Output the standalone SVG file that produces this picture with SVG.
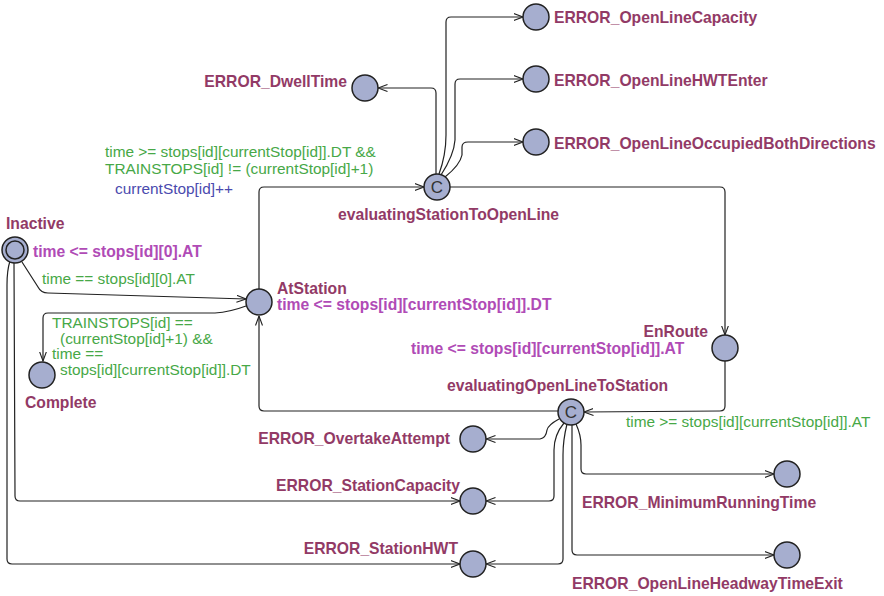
<svg xmlns="http://www.w3.org/2000/svg" width="884" height="596" viewBox="0 0 884 596">
<defs>
<marker id="arr" viewBox="0 0 10 8" refX="9.5" refY="4" markerWidth="10" markerHeight="8" markerUnits="userSpaceOnUse" orient="auto">
<path d="M0,0.5 L9.5,4 L0,7.5" fill="none" stroke="#222" stroke-width="1.1"/>
</marker>
<style>
.loc{fill:#A6AECF;stroke:#222;stroke-width:1.5}
.name{font-family:"Liberation Sans",Arial,sans-serif;font-weight:bold;font-size:15.7px;fill:#923A66}
.inv{font-family:"Liberation Sans",Arial,sans-serif;font-weight:bold;font-size:15.7px;fill:#B04BB6}
.grd{font-family:"Liberation Sans",Arial,sans-serif;font-size:15.4px;fill:#47A847}
.upd{font-family:"Liberation Sans",Arial,sans-serif;font-size:15.4px;fill:#4A4AAE}
.cc{font-family:"Liberation Sans",Arial,sans-serif;font-size:17px;fill:#333;text-anchor:middle}
.e{fill:none;stroke:#222;stroke-width:1.2;marker-end:url(#arr)}
</style>
</defs>
<rect width="884" height="596" fill="#fff"/>

<g id="connectors">
<path class="e" d="M22,262 L38,287 Q41,293 48,293 L246,299"/>
<path class="e" d="M246,306 Q230,312 215,313 L48,313 Q43,313 43,318 L43,361"/>
<path class="e" d="M14,263 L15,496 Q15,501 20,501 L460,501"/>
<path class="e" d="M10,261 Q7,270 7,285 L7,559 Q7,564 12,564 L460,564"/>
<path class="e" d="M259,289 L259,192 Q259,187 264,187 L424,187"/>
<path class="e" d="M450,187 L720,187 Q725,187 725,192 L725,335"/>
<path class="e" d="M725,361 L725,406 Q725,411 720,411 L584,412"/>
<path class="e" d="M558,411 L264,411 Q259,411 259,406 L259,316"/>
<path class="e" d="M436,174 L436,93 Q436,88 431,88 L378,88"/>
<path class="e" d="M439,174 Q446,155 446,135 L446,22 Q446,17 451,17 L523,17"/>
<path class="e" d="M441,175 Q454,155 455,140 L455,84 Q455,79 460,79 L523,79"/>
<path class="e" d="M445,177 Q460,165 462,155 L462,147 Q462,142 468,142 L523,142"/>
<path class="e" d="M559,419 Q548,425 547,430 Q546,438 540,439 L486,439"/>
<path class="e" d="M564,423 Q554,435 554,450 L554,496 Q554,501 549,501 L486,501"/>
<path class="e" d="M567,424 Q563,440 563,455 L563,559 Q563,564 558,564 L486,564"/>
<path class="e" d="M572,425 L572,550 Q572,555 577,555 L774,555"/>
<path class="e" d="M576,424 Q581,435 581,445 L581,469 Q581,474 586,474 L774,474"/>
</g>

<g id="labels">
<text class="grd" x="42" y="284">time == stops[id][0].AT</text>
<text class="grd" x="52" y="328">TRAINSTOPS[id] ==</text>
<text class="grd" x="60" y="344">(currentStop[id]+1) &amp;&amp;</text>
<text class="grd" x="52" y="359">time ==</text>
<text class="grd" x="60" y="375">stops[id][currentStop[id]].DT</text>
<text class="grd" x="105" y="157">time &gt;= stops[id][currentStop[id]].DT &amp;&amp;</text>
<text class="grd" x="105" y="174">TRAINSTOPS[id] != (currentStop[id]+1)</text>
<text class="upd" x="115" y="194">currentStop[id]++</text>
<text class="grd" x="626" y="427">time &gt;= stops[id][currentStop[id]].AT</text>
</g>

<g id="Inactive">
<circle class="loc" cx="15" cy="250" r="13"/>
<circle cx="15" cy="250" r="9" fill="none" stroke="#222" stroke-width="1.5"/>
<text class="name" x="6" y="229">Inactive</text>
<text class="inv" x="33" y="257">time &lt;= stops[id][0].AT</text>
</g>
<g id="AtStation">
<circle class="loc" cx="259" cy="302" r="13"/>
<text class="name" x="277" y="294">AtStation</text>
<text class="inv" x="277" y="310">time &lt;= stops[id][currentStop[id]].DT</text>
</g>
<g id="Complete">
<circle class="loc" cx="42" cy="375" r="13"/>
<text class="name" x="25" y="408">Complete</text>
</g>
<g id="evaluatingStationToOpenLine">
<circle class="loc" cx="437" cy="187" r="13"/>
<text class="cc" x="437" y="193">C</text>
<text class="name" x="338" y="220">evaluatingStationToOpenLine</text>
</g>
<g id="EnRoute">
<circle class="loc" cx="725" cy="348" r="13"/>
<text class="name" x="708" y="337" text-anchor="end">EnRoute</text>
<text class="inv" x="411" y="354">time &lt;= stops[id][currentStop[id]].AT</text>
</g>
<g id="evaluatingOpenLineToStation">
<circle class="loc" cx="571" cy="412" r="13"/>
<text class="cc" x="571" y="418">C</text>
<text class="name" x="447" y="391">evaluatingOpenLineToStation</text>
</g>
<g id="ERROR_DwellTime">
<circle class="loc" cx="365" cy="88" r="13"/>
<text class="name" x="347" y="87" text-anchor="end">ERROR_DwellTime</text>
</g>
<g id="ERROR_OpenLineCapacity">
<circle class="loc" cx="536" cy="17" r="13"/>
<text class="name" x="554" y="23">ERROR_OpenLineCapacity</text>
</g>
<g id="ERROR_OpenLineHWTEnter">
<circle class="loc" cx="536" cy="79" r="13"/>
<text class="name" x="554" y="86">ERROR_OpenLineHWTEnter</text>
</g>
<g id="ERROR_OpenLineOccupiedBothDirections">
<circle class="loc" cx="536" cy="142" r="13"/>
<text class="name" x="554" y="149">ERROR_OpenLineOccupiedBothDirections</text>
</g>
<g id="ERROR_OvertakeAttempt">
<circle class="loc" cx="473" cy="439" r="13"/>
<text class="name" x="450" y="444" text-anchor="end">ERROR_OvertakeAttempt</text>
</g>
<g id="ERROR_StationCapacity">
<circle class="loc" cx="473" cy="501" r="13"/>
<text class="name" x="460" y="491" text-anchor="end">ERROR_StationCapacity</text>
</g>
<g id="ERROR_StationHWT">
<circle class="loc" cx="473" cy="564" r="13"/>
<text class="name" x="458" y="554" text-anchor="end">ERROR_StationHWT</text>
</g>
<g id="ERROR_MinimumRunningTime">
<circle class="loc" cx="787" cy="474" r="13"/>
<text class="name" x="582" y="508">ERROR_MinimumRunningTime</text>
</g>
<g id="ERROR_OpenLineHeadwayTimeExit">
<circle class="loc" cx="787" cy="555" r="13"/>
<text class="name" x="572" y="589">ERROR_OpenLineHeadwayTimeExit</text>
</g>
</svg>
